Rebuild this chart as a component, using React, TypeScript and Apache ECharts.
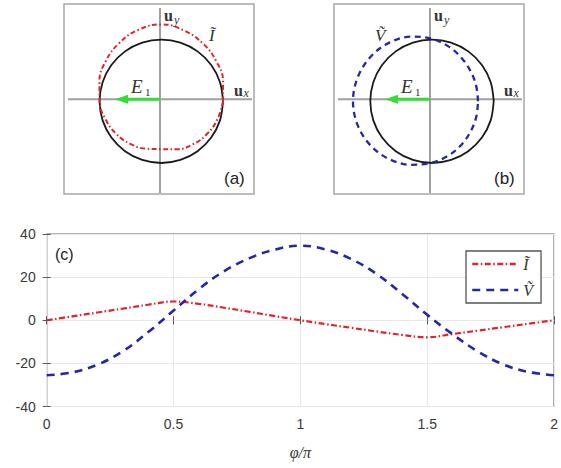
import { useEffect, useRef } from "react";
import * as echarts from "echarts";

// phase φ/π
const PHI = [0, 0.1, 0.2, 0.3, 0.4, 0.5, 0.6, 0.7, 0.8, 0.9, 1.0, 1.1, 1.2, 1.3, 1.4, 1.5, 1.6, 1.7, 1.8, 1.9, 2.0];
// Ĩ(φ)
const I_TILDE = [0, 1.8, 3.6, 5.4, 7.2, 8.7, 7.6, 5.8, 3.9, 1.9, 0, -1.8, -3.5, -5.2, -6.8, -7.9, -6.4, -4.8, -3.2, -1.6, 0];
// Ṽ(φ)
const V_TILDE = [-25.5, -24.2, -20.6, -14.4, -5.5, 4.5, 14.5, 22.8, 28.8, 32.8, 34.6, 32.8, 28.4, 21.5, 12.3, 2.5, -6.5, -14.5, -20.5, -24, -25.5];
const X_TICKS = [0, 0.5, 1, 1.5, 2];
const Y_TICKS = [-40, -20, 0, 20, 40];

const NAME_I = "\u0128";
const NAME_V = "\u1E7C";

// orbit drawing constants (pixel units in the small panels)
const R_CIRCLE = 61.7;
const K_I = 1.75;
const R0_V = 60;
const K_V = 0.55;

const RED = "#e0242a";
const BLUE = "#2626a8";
const GREEN = "#33dd33";
const SERIF = "'Liberation Serif', 'DejaVu Serif', serif";
const SANS = "'Liberation Sans', Arial, sans-serif";

function orbit(radii: number[]) {
  return PHI.map((p, i) => [radii[i] * Math.cos(Math.PI * p), radii[i] * Math.sin(Math.PI * p)]);
}

function label(x: number, y: number, text: string, font: string, fill = "#333") {
  return {
    type: "text",
    x,
    y,
    z: 20,
    style: { text, font, fill, align: "left", verticalAlign: "middle", textAlign: "left", textVerticalAlign: "middle" },
  };
}

function panelDecor(left: number, cx: number, cy: number, tag: string, curveName: string, curveX: number) {
  return [
    { type: "line", shape: { x1: left + 4, y1: cy, x2: left + 188, y2: cy }, style: { stroke: "#a0a0a0", lineWidth: 2 } },
    { type: "line", shape: { x1: cx, y1: 8, x2: cx, y2: 193 }, style: { stroke: "#a0a0a0", lineWidth: 2 } },
    { type: "line", shape: { x1: cx, y1: cy, x2: cx - 33, y2: cy }, style: { stroke: GREEN, lineWidth: 3 } },
    {
      type: "polygon",
      shape: { points: [[cx - 45, cy], [cx - 32, cy - 4.5], [cx - 32, cy + 4.5]] },
      style: { fill: GREEN },
    },
    label(cx + 4, 15.5, "u", `bold 16px ${SERIF}`),
    label(cx + 14, 19.5, "y", `italic 12px ${SERIF}`),
    label(left + 170, 90, "u", `bold 16px ${SERIF}`),
    label(left + 179.5, 93, "x", `italic 12px ${SERIF}`),
    label(cx - 29, 86, "E", `italic 19px ${SERIF}`),
    label(cx - 15, 91.5, "1", `11px ${SERIF}`),
    label(curveX, 35, curveName, `italic 17px ${SERIF}`),
    label(left + 160, 178, tag, `17px ${SANS}`, "#222"),
  ];
}

export default function App() {
  const ref = useRef<HTMLDivElement>(null);

  useEffect(() => {
    if (!ref.current) return;
    const chart = echarts.init(ref.current, undefined, { renderer: "svg" });

    const circle = orbit(PHI.map(() => R_CIRCLE));
    const iOrbit = orbit(I_TILDE.map((v) => R_CIRCLE + K_I * v));
    const vOrbit = orbit(V_TILDE.map((v) => R0_V + K_V * v));

    const hiddenAxis = (gridIndex: number, min: number, max: number) => ({
      type: "value",
      gridIndex,
      min,
      max,
      show: false,
    });

    const tickStyle = { show: true, inside: true, length: 4, lineStyle: { color: "#555", width: 1 } };

    chart.setOption({
      animation: false,
      backgroundColor: "#fff",
      grid: [
        { left: 64, top: 4, width: 190, height: 190, show: true, borderColor: "#a8a8a8", borderWidth: 1.5, backgroundColor: "transparent" },
        { left: 334, top: 4, width: 190, height: 190, show: true, borderColor: "#a8a8a8", borderWidth: 1.5, backgroundColor: "transparent" },
        { left: 46.7, top: 234, width: 508.8, height: 172.5, show: true, borderColor: "#666", borderWidth: 1.2, backgroundColor: "transparent" },
      ],
      xAxis: [
        hiddenAxis(0, -97.3, 92.7),
        hiddenAxis(1, -98, 92),
        {
          type: "value",
          gridIndex: 2,
          min: X_TICKS[0],
          max: X_TICKS[X_TICKS.length - 1],
          interval: X_TICKS[1] - X_TICKS[0],
          axisLine: { show: false },
          axisTick: tickStyle,
          splitLine: { show: true, lineStyle: { color: "#e8e8e8", width: 1 } },
          axisLabel: { margin: 10, fontSize: 14, color: "#3a3a3a", fontFamily: SANS },
          name: "\u03C6/\u03C0",
          nameLocation: "middle",
          nameGap: 38,
          nameTextStyle: { fontFamily: SERIF, fontStyle: "italic", fontSize: 16, color: "#333" },
        },
        {
          type: "value",
          gridIndex: 2,
          position: "top",
          min: X_TICKS[0],
          max: X_TICKS[X_TICKS.length - 1],
          interval: X_TICKS[1] - X_TICKS[0],
          axisLine: { show: false },
          axisTick: tickStyle,
          splitLine: { show: false },
          axisLabel: { show: false },
        },
      ],
      yAxis: [
        hiddenAxis(0, -92.7, 97.3),
        hiddenAxis(1, -92.7, 97.3),
        {
          type: "value",
          gridIndex: 2,
          min: Y_TICKS[0],
          max: Y_TICKS[Y_TICKS.length - 1],
          interval: Y_TICKS[1] - Y_TICKS[0],
          axisLine: { show: false },
          axisTick: tickStyle,
          splitLine: { show: true, lineStyle: { color: "#e8e8e8", width: 1 } },
          axisLabel: { margin: 11, fontSize: 14, color: "#3a3a3a", fontFamily: SANS },
        },
        {
          type: "value",
          gridIndex: 2,
          position: "right",
          min: Y_TICKS[0],
          max: Y_TICKS[Y_TICKS.length - 1],
          interval: Y_TICKS[1] - Y_TICKS[0],
          axisLine: { show: false },
          axisTick: tickStyle,
          splitLine: { show: false },
          axisLabel: { show: false },
        },
      ],
      legend: {
        left: 466,
        top: 251,
        orient: "vertical",
        selectedMode: false,
        data: [NAME_I, NAME_V],
        backgroundColor: "#fff",
        borderColor: "#555",
        borderWidth: 1.3,
        borderRadius: 0,
        padding: [5, 8, 5, 5],
        itemWidth: 46,
        itemHeight: 16,
        itemGap: 10,
        itemStyle: { opacity: 0 },
        lineStyle: { width: 2.5 },
        textStyle: { fontFamily: SERIF, fontStyle: "italic", fontSize: 16, lineHeight: 16, color: "#333" },
      },
      graphic: [
        ...panelDecor(64, 160, 99.3, "(a)", NAME_I, 209),
        ...panelDecor(334, 430, 99.3, "(b)", NAME_V, 375),
        label(55, 254, "(c)", `16px ${SANS}`, "#222"),
      ],
      series: [
        {
          name: "circle-a",
          type: "line",
          xAxisIndex: 0,
          yAxisIndex: 0,
          data: circle,
          smooth: 0.35,
          symbol: "none",
          itemStyle: { color: "#1a1a1a" },
          lineStyle: { color: "#1a1a1a", width: 1.8 },
        },
        {
          name: "orbit-I",
          type: "line",
          xAxisIndex: 0,
          yAxisIndex: 0,
          data: iOrbit,
          smooth: 0.45,
          symbol: "none",
          itemStyle: { color: RED },
          lineStyle: { color: RED, width: 2, type: [5, 2.5, 1.5, 2.5] },
        },
        {
          name: "circle-b",
          type: "line",
          xAxisIndex: 1,
          yAxisIndex: 1,
          data: circle,
          smooth: 0.35,
          symbol: "none",
          itemStyle: { color: "#1a1a1a" },
          lineStyle: { color: "#1a1a1a", width: 1.8 },
        },
        {
          name: "orbit-V",
          type: "line",
          xAxisIndex: 1,
          yAxisIndex: 1,
          data: vOrbit,
          smooth: 0.35,
          symbol: "none",
          itemStyle: { color: BLUE },
          lineStyle: { color: BLUE, width: 2.3, type: [6, 4.5] },
        },
        {
          name: NAME_I,
          type: "line",
          xAxisIndex: 2,
          yAxisIndex: 2,
          data: PHI.map((p, i) => [p, I_TILDE[i]]),
          smooth: 0.4,
          symbol: "none",
          itemStyle: { color: RED },
          lineStyle: { color: RED, width: 2.2, type: [6, 2.5, 1.5, 2.5] },
        },
        {
          name: NAME_V,
          type: "line",
          xAxisIndex: 2,
          yAxisIndex: 2,
          data: PHI.map((p, i) => [p, V_TILDE[i]]),
          smooth: 0.4,
          symbol: "none",
          itemStyle: { color: BLUE },
          lineStyle: { color: BLUE, width: 2.6, type: [8, 6] },
        },
      ],
    });

    return () => chart.dispose();
  }, []);

  return <div ref={ref} style={{ position: "absolute", left: 0, top: 0, width: 561, height: 468 }} />;
}
